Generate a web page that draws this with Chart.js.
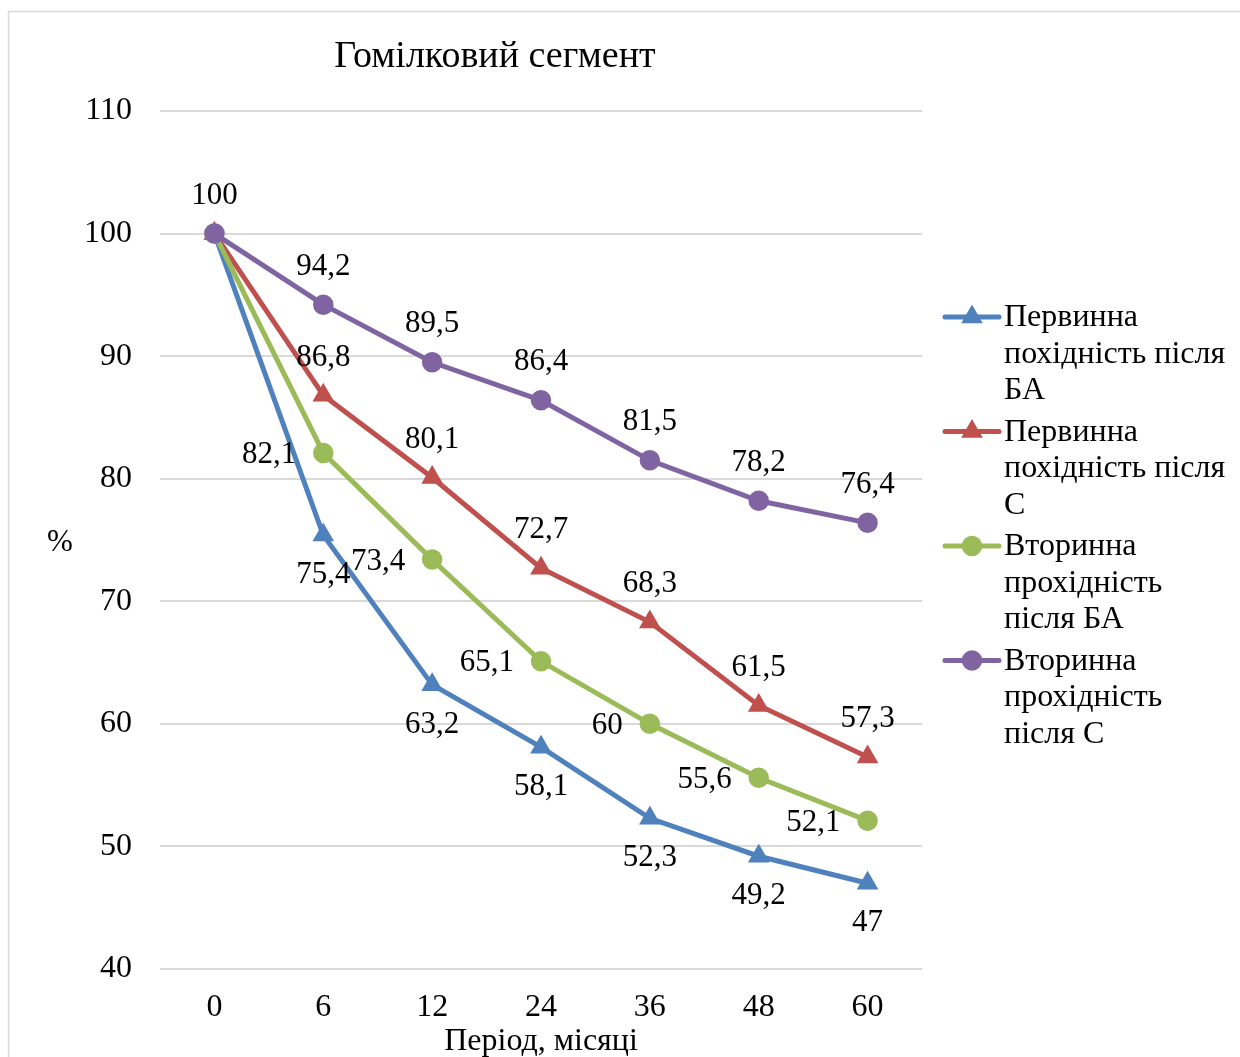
<!DOCTYPE html>
<html>
<head>
<meta charset="utf-8">
<script src="https://cdn.jsdelivr.net/npm/chart.js@4.4.1/dist/chart.umd.min.js"></script>
<style>
  html, body { margin: 0; padding: 0; background: #fff; }
  #wrap { position: relative; width: 1240px; height: 1057px; }
</style>
</head>
<body>
<div id="wrap"><canvas id="c" width="1240" height="1057"></canvas></div>
<script>
// Періоди спостереження, місяці
const periods = ['0', '6', '12', '24', '36', '48', '60'];

// Прохідність, %
const primaryBA = [100, 75.4, 63.2, 58.1, 52.3, 49.2, 47];
const primaryC = [100, 86.8, 80.1, 72.7, 68.3, 61.5, 57.3];
const secondaryBA = [100, 82.1, 73.4, 65.1, 60, 55.6, 52.1];
const secondaryC = [100, 94.2, 89.5, 86.4, 81.5, 78.2, 76.4];

const seriesNames = [
  ['Первинна', 'похідність після', 'БА'],
  ['Первинна', 'похідність після', 'С'],
  ['Вторинна', 'прохідність', 'після БА'],
  ['Вторинна', 'прохідність', 'після С']
];

const yTicks = [40, 50, 60, 70, 80, 90, 100, 110];

const titleText = 'Гомілковий сегмент';
const xTitle = 'Період, місяці';
const yTitle = '%';

const FONT = '"Liberation Serif", "Times New Roman", serif';
const colors = ['#4F81BD', '#C0504D', '#9BBB59', '#8064A2'];

// where each series puts its value labels
const labelPlacement = ['below', 'above', 'left', 'above'];
// first-point labels are shared at 100; only one is shown
const showFirstLabel = [false, false, false, true];

function fmt(v) { return String(v).replace('.', ','); }

const frame = {
  id: 'frame',
  beforeDraw(chart) {
    const ctx = chart.ctx;
    ctx.save();
    ctx.fillStyle = '#fff';
    ctx.fillRect(0, 0, chart.width, chart.height);
    ctx.strokeStyle = '#d9d9d9';
    ctx.lineWidth = 1.5;
    ctx.strokeRect(8.5, 11.5, 1400, 1200);
    ctx.restore();
  }
};

const annotations = {
  id: 'annotations',
  afterDatasetsDraw(chart) {
    const ctx = chart.ctx;
    const area = chart.chartArea;
    ctx.save();
    ctx.fillStyle = '#000';

    // title
    ctx.font = '38px ' + FONT;
    ctx.textAlign = 'center';
    ctx.textBaseline = 'middle';
    ctx.fillText(titleText, area.left + 335, 57);

    // y-axis title, horizontal
    ctx.font = '31px ' + FONT;
    ctx.fillText(yTitle, 60, (area.top + area.bottom) / 2 + 3);

    // value labels
    ctx.font = '31px ' + FONT;
    chart.data.datasets.forEach((ds, i) => {
      const meta = chart.getDatasetMeta(i);
      meta.data.forEach((pt, j) => {
        if (j === 0 && !showFirstLabel[i]) return;
        const txt = fmt(ds.data[j]);
        const pos = labelPlacement[i];
        if (pos === 'above') {
          ctx.textAlign = 'center';
          ctx.fillText(txt, pt.x, pt.y - 38);
        } else if (pos === 'below') {
          ctx.textAlign = 'center';
          ctx.fillText(txt, pt.x, pt.y + 40);
        } else {
          ctx.textAlign = 'right';
          ctx.fillText(txt, pt.x - 27, pt.y + 2);
        }
      });
    });

    // legend
    ctx.font = '32px ' + FONT;
    const lx = area.right + 23;
    let ly = area.top + 206;
    const lineH = 36.5;
    chart.data.datasets.forEach((ds, i) => {
      ctx.strokeStyle = ds.borderColor;
      ctx.lineWidth = 5;
      ctx.lineCap = 'round';
      ctx.beginPath();
      ctx.moveTo(lx, ly);
      ctx.lineTo(lx + 54, ly);
      ctx.stroke();
      ctx.fillStyle = ds.borderColor;
      ctx.strokeStyle = ds.borderColor;
      ctx.lineWidth = ds.pointBorderWidth;
      Chart.helpers.drawPoint(ctx, {
        pointStyle: ds.pointStyle,
        radius: ds.pointRadius,
        borderWidth: ds.pointBorderWidth
      }, lx + 27, ly);
      ctx.fillStyle = '#000';
      ctx.textAlign = 'left';
      seriesNames[i].forEach((line, k) => {
        ctx.fillText(line, lx + 59, ly + k * lineH + 1);
      });
      ly += 3 * lineH + 5;
    });
    ctx.restore();
  }
};

function makeDataset(idx, data, style, radius) {
  return {
    label: seriesNames[idx].join(' '),
    data: data,
    order: 4 - idx,
    borderColor: colors[idx],
    backgroundColor: colors[idx],
    pointBackgroundColor: colors[idx],
    pointBorderColor: colors[idx],
    borderWidth: 5,
    pointStyle: style,
    pointRadius: radius,
    pointBorderWidth: 1.5,
    pointHoverRadius: radius,
    tension: 0,
    fill: false
  };
}

new Chart(document.getElementById('c'), {
  type: 'line',
  data: {
    labels: periods,
    datasets: [
      makeDataset(0, primaryBA, 'triangle', 11),
      makeDataset(1, primaryC, 'triangle', 11),
      makeDataset(2, secondaryBA, 'circle', 9.5),
      makeDataset(3, secondaryC, 'circle', 9.5)
    ]
  },
  options: {
    responsive: false,
    animation: false,
    events: [],
    layout: { padding: { left: 0, right: 318, top: 111, bottom: 0 } },
    plugins: {
      legend: { display: false },
      title: { display: false },
      tooltip: { enabled: false }
    },
    scales: {
      x: {
        offset: true,
        grid: { display: false, drawTicks: false },
        border: { display: false },
        ticks: { color: '#000', font: { family: FONT, size: 32 }, padding: 19 },
        title: {
          display: true, text: xTitle, color: '#000',
          font: { family: FONT, size: 32 }, padding: { top: 0, bottom: -4 }
        },
        afterFit(scale) { scale.height = 88; }
      },
      y: {
        min: 40,
        max: 110,
        afterBuildTicks(scale) { scale.ticks = yTicks.map(v => ({ value: v })); },
        grid: { color: '#d9d9d9', lineWidth: 2, drawTicks: false },
        border: { display: false },
        ticks: { color: '#000', font: { family: FONT, size: 32 }, padding: 28 },
        afterFit(scale) { scale.width = 160; }
      }
    }
  },
  plugins: [frame, annotations]
});
</script>
</body>
</html>
